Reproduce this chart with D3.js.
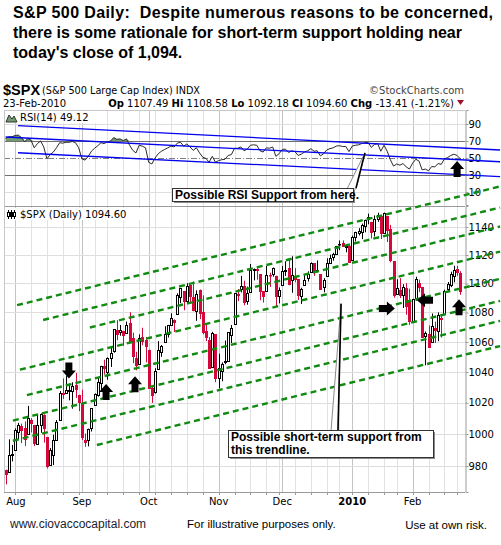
<!DOCTYPE html>
<html lang="en">
<head>
<meta charset="utf-8">
<title>S&amp;P 500 Daily</title>
<script src="https://cdn.jsdelivr.net/npm/d3@7"></script>
<style>
  body { margin: 0; background: #fff; }
  svg { display: block; }
  text { white-space: pre; }
</style>
</head>
<body>
<script>

// trading sessions, 29-Jul-2009 .. 23-Feb-2010
var tradingDays = [
  "2009-07-29","2009-07-30","2009-07-31",
  "2009-08-03","2009-08-04","2009-08-05","2009-08-06","2009-08-07","2009-08-10","2009-08-11","2009-08-12","2009-08-13","2009-08-14",
  "2009-08-17","2009-08-18","2009-08-19","2009-08-20","2009-08-21","2009-08-24","2009-08-25","2009-08-26","2009-08-27","2009-08-28","2009-08-31",
  "2009-09-01","2009-09-02","2009-09-03","2009-09-04","2009-09-08","2009-09-09","2009-09-10","2009-09-11","2009-09-14","2009-09-15","2009-09-16",
  "2009-09-17","2009-09-18","2009-09-21","2009-09-22","2009-09-23","2009-09-24","2009-09-25","2009-09-28","2009-09-29","2009-09-30",
  "2009-10-01","2009-10-02","2009-10-05","2009-10-06","2009-10-07","2009-10-08","2009-10-09","2009-10-12","2009-10-13","2009-10-14","2009-10-15",
  "2009-10-16","2009-10-19","2009-10-20","2009-10-21","2009-10-22","2009-10-23","2009-10-26","2009-10-27","2009-10-28","2009-10-29","2009-10-30",
  "2009-11-02","2009-11-03","2009-11-04","2009-11-05","2009-11-06","2009-11-09","2009-11-10","2009-11-11","2009-11-12","2009-11-13",
  "2009-11-16","2009-11-17","2009-11-18","2009-11-19","2009-11-20","2009-11-23","2009-11-24","2009-11-25","2009-11-27","2009-11-30",
  "2009-12-01","2009-12-02","2009-12-03","2009-12-04","2009-12-07","2009-12-08","2009-12-09","2009-12-10","2009-12-11","2009-12-14","2009-12-15",
  "2009-12-16","2009-12-17","2009-12-18","2009-12-21","2009-12-22","2009-12-23","2009-12-24","2009-12-28","2009-12-29","2009-12-30","2009-12-31",
  "2010-01-04","2010-01-05","2010-01-06","2010-01-07","2010-01-08","2010-01-11","2010-01-12","2010-01-13","2010-01-14","2010-01-15",
  "2010-01-19","2010-01-20","2010-01-21","2010-01-22","2010-01-25","2010-01-26","2010-01-27","2010-01-28","2010-01-29",
  "2010-02-01","2010-02-02","2010-02-03","2010-02-04","2010-02-05","2010-02-08","2010-02-09","2010-02-10","2010-02-11","2010-02-12",
  "2010-02-16","2010-02-17","2010-02-18","2010-02-19","2010-02-22","2010-02-23"
];

var opens = [
  977.66,976.01,986.80,
  990.22,1001.41,1005.41,1004.06,999.83,1008.89,1005.77,994.00,1005.86,1012.23,
  998.18,980.62,986.88,996.41,1009.06,1026.59,1026.63,1027.35,1027.81,1031.62,1025.21,
  1019.52,996.07,996.12,1003.84,1018.67,1025.36,1032.99,1043.92,1040.15,1049.03,1053.99,
  1067.87,1066.60,1067.14,1066.35,1072.69,1062.56,1049.48,1045.38,1063.69,1061.02,
  1054.91,1029.71,1026.87,1042.02,1053.65,1060.03,1065.28,1071.63,1074.96,1078.68,1090.36,
  1094.67,1088.22,1098.64,1090.36,1080.96,1095.62,1080.36,1067.54,1061.51,1043.69,1065.41,
  1036.18,1040.92,1047.30,1047.30,1064.95,1072.31,1092.18,1096.04,1098.31,1087.59,
  1094.13,1109.22,1109.44,1106.44,1094.66,1094.86,1105.83,1106.49,1105.47,1091.07,
  1098.89,1109.03,1110.59,1102.43,1105.52,1103.04,1091.07,1098.69,1103.96,1107.84,1114.11,
  1108.61,1106.36,1097.86,1105.31,1114.51,1118.84,1121.08,1127.53,1128.55,1125.53,1126.60,
  1116.56,1132.66,1135.71,1136.27,1140.52,1145.96,1143.81,1137.31,1145.68,1147.72,
  1136.03,1147.95,1138.68,1115.49,1092.40,1095.80,1091.94,1096.93,1087.61,
  1073.89,1090.05,1100.67,1097.25,1064.12,1065.51,1060.06,1069.68,1067.10,1075.95,
  1079.13,1096.14,1099.03,1105.49,1110.00,1107.49
];
var highs = [
  977.76,996.68,993.18,
  1003.61,1007.12,1006.64,1008.00,1018.00,1010.12,1005.77,1012.78,1013.14,1012.60,
  998.18,991.20,999.61,1008.92,1027.59,1035.82,1037.75,1032.47,1033.33,1039.47,1025.21,
  1028.45,1000.34,1003.43,1016.48,1026.07,1036.34,1044.14,1048.18,1049.74,1056.04,1068.76,
  1074.77,1071.52,1067.28,1073.81,1080.15,1066.29,1053.47,1065.13,1069.62,1063.40,
  1054.91,1030.60,1042.58,1060.55,1058.02,1070.67,1071.51,1079.46,1075.30,1093.17,1096.56,
  1094.67,1100.17,1098.64,1101.36,1095.21,1095.83,1091.75,1072.48,1063.26,1066.83,1065.41,
  1052.18,1046.36,1061.00,1066.65,1071.48,1093.19,1096.09,1105.37,1101.97,1097.79,
  1113.69,1110.52,1111.10,1106.44,1094.66,1112.38,1107.56,1111.18,1105.47,1097.24,
  1112.28,1115.58,1117.28,1119.13,1110.72,1103.04,1097.04,1106.25,1108.50,1114.76,1114.11,
  1116.21,1106.36,1103.74,1117.68,1120.27,1121.58,1126.48,1130.38,1130.38,1126.42,1127.64,
  1133.87,1136.63,1139.19,1142.46,1145.39,1149.74,1143.81,1148.40,1150.41,1147.77,
  1150.45,1147.95,1141.58,1115.49,1102.97,1103.69,1099.51,1100.22,1096.45,
  1089.38,1104.73,1102.72,1097.25,1067.13,1071.20,1079.28,1073.67,1080.04,1077.81,
  1095.67,1101.03,1108.24,1112.42,1112.29,1108.58
];
var lows = [
  968.65,976.01,982.85,
  990.22,996.68,994.31,992.49,999.83,1000.99,992.40,993.36,1000.82,994.60,
  978.51,980.62,980.62,996.39,1009.06,1022.48,1026.21,1021.57,1016.20,1023.13,1014.62,
  996.28,991.97,992.25,1001.65,1018.67,1023.97,1028.04,1038.40,1035.00,1043.42,1052.87,
  1061.20,1064.27,1057.46,1066.35,1060.39,1045.85,1041.17,1045.38,1057.83,1046.47,
  1029.45,1019.95,1025.92,1042.02,1050.10,1060.03,1063.00,1071.63,1066.71,1078.68,1086.41,
  1081.53,1086.48,1086.16,1080.77,1074.31,1075.49,1065.23,1060.62,1042.19,1043.69,1033.38,
  1029.38,1033.94,1045.15,1047.30,1059.32,1072.31,1087.83,1093.81,1084.90,1085.33,
  1094.13,1102.19,1102.70,1088.40,1086.81,1094.86,1097.63,1104.75,1083.74,1086.25,
  1098.89,1105.29,1098.74,1093.52,1100.83,1088.61,1085.89,1098.69,1101.34,1107.84,1105.35,
  1107.96,1095.88,1093.88,1105.31,1114.51,1116.00,1121.08,1123.51,1126.08,1121.94,1114.81,
  1116.56,1129.66,1133.95,1131.32,1136.22,1142.02,1131.77,1133.18,1143.80,1131.39,
  1135.77,1129.25,1114.84,1090.18,1092.40,1089.86,1083.11,1078.46,1071.59,
  1073.89,1087.96,1093.97,1062.78,1044.50,1056.51,1060.06,1059.34,1060.59,1062.97,
  1079.13,1094.72,1097.48,1100.80,1105.38,1092.18
];
var closes = [
  975.15,986.75,987.48,
  1002.63,1005.65,1002.72,997.08,1010.48,1007.10,994.35,1005.81,1012.73,1004.09,
  979.73,989.67,996.46,1007.37,1026.13,1025.57,1028.00,1028.12,1030.98,1028.93,1020.62,
  998.04,994.75,1003.24,1016.40,1025.39,1033.37,1044.14,1042.73,1049.34,1052.63,1068.76,
  1065.49,1068.30,1064.66,1071.66,1060.87,1050.78,1044.38,1062.98,1060.61,1057.08,
  1029.85,1025.21,1040.46,1054.72,1057.58,1065.48,1071.49,1076.19,1073.19,1092.02,1096.56,
  1087.68,1097.91,1091.06,1081.40,1092.91,1079.60,1066.95,1063.41,1042.63,1066.11,1036.19,
  1042.88,1045.41,1046.50,1066.63,1069.30,1093.08,1093.01,1098.51,1087.24,1093.48,
  1109.30,1110.32,1109.80,1094.90,1091.38,1106.24,1105.65,1110.63,1091.49,1095.63,
  1108.86,1109.24,1099.92,1105.98,1103.25,1091.94,1095.95,1102.35,1106.41,1114.11,1107.93,
  1109.18,1096.08,1102.47,1114.05,1118.02,1120.59,1126.48,1127.78,1126.20,1126.42,1115.10,
  1132.99,1136.52,1137.14,1141.69,1144.98,1146.98,1136.22,1145.68,1148.46,1136.03,
  1150.23,1138.04,1116.48,1091.76,1096.78,1092.17,1097.50,1084.53,1073.87,
  1089.19,1103.32,1097.28,1063.11,1066.19,1056.74,1070.52,1068.13,1078.47,1075.51,
  1094.87,1099.51,1106.75,1109.17,1108.01,1094.60
];
var closeBefore = 979.62;   // 28-Jul-2009, colours the first bar

// RSI(14)
var rsi14 = [
  73,75,75,
  76.5,77,74,69,73,71,62,67,70,63,
  49,54,57,62,68,67.5,68.5,68.5,69.5,68,62,
  49,47.5,52,58,61.5,64.5,68,67,69,70,74,
  72,72.5,70.5,72.5,65,59,56,65,64,62,
  45,43,50,55,58,60,62,64,63,67.5,68.5,
  64,66.5,63,59,62,56,51,49.5,45,52,45,
  47,48,48.5,53,54,61.5,61.5,63,58.5,60.5,
  65,65.5,65,58.5,57,62,61.5,63,52,55,
  60,60.5,56.5,58.5,57.5,53,54.5,57,58.5,61,58,
  58.5,52.5,55,59.5,61,62,64,64.5,63.5,63.5,57.5,
  64,65,65.5,67,68,68.5,62.5,66,67,58,
  65,58,48,40.5,43,41.5,43.5,39.5,37,
  44,48.5,46.5,36,37,35,40,39.5,43.5,42.5,
  49,50.5,53,54.5,53,49.12
];

// axis ticks
var priceTicks = [980,1000,1020,1040,1060,1080,1100,1120,1140];
var rsiTicks = [90,70,50,30,10];

// green channel lines on the price panel (session index, price)
var trendStartIdx   = [3.6, 11.8, 26.5, 4.5, 6.7, 2.3, 2.3, 28.7];
var trendStartPrice = [1085.0, 1074.9, 1069.8, 1041.6, 1025.0, 1008.6, 995.8, 993.1];
var trendEndIdx     = [155.5, 155.5, 155.5, 155.5, 155.5, 155.5, 155.5, 155.5];
var trendEndPrice   = [1169.7, 1154.2, 1140.4, 1122.4, 1103.3, 1088.0, 1074.3, 1057.3];

// blue lines on the RSI panel
var rsiLineStartIdx = [3.9, 0, 3.9];
var rsiLineStartVal = [88.0, 74.7, 56.2];
var rsiLineEndIdx   = [155.5, 155.5, 155.5];
var rsiLineEndVal   = [59.4, 45.6, 28.0];

// block arrows
var arrowIdx   = [19.9, 31.6, 40.7, 119.9, 131.9, 142.6];
var arrowPrice = [1041, 1027, 1032, 1082.8, 1088.4, 1083.6];
var arrowDir   = ["down","up","up","right","left","up"];
var rsiArrowIdx = 142, rsiArrowVal = 37;

var w = 501, h = 545;
var plotLeft = 4, plotRight = 465;
var rsiTop = 110, rsiBottom = 205, priceTop = 206, priceBottom = 492;
var red = "#d3093b";
var sansUI = "'DejaVu Sans', Verdana, sans-serif";
var arial = "'Liberation Sans', Arial, sans-serif";

var parseDay = d3.timeParse("%Y-%m-%d");
var days = tradingDays.map(parseDay);

var xScale = d3.scaleLinear().domain([0, days.length - 1]).range([5.6, 460.3]);
var yPrice = d3.scaleLog().domain([964, 1155.3]).range([priceBottom, priceTop]);
var yRsi = d3.scaleLinear().domain([-5.3, 106.5]).range([rsiBottom, rsiTop]);

var svg = d3.select("body").append("svg")
  .attr("width", w).attr("height", h);

svg.append("rect").attr("width", w).attr("height", h).attr("fill", "#fff");

// title
var title = ["S&P 500 Daily:  Despite numerous reasons to be concerned,",
             "there is some rationale for short-term support holding near",
             "today's close of 1,094."];
svg.selectAll("text.title").data(title).enter().append("text")
  .attr("class", "title")
  .attr("x", 13).attr("y", function(d, i) { return 18 + i * 20; })
  .attr("font-family", arial).attr("font-weight", "bold").attr("font-size", "16px")
  .attr("fill", "#000")
  .attr("textLength", function(d, i) { return i === 0 ? 480 : null; })
  .attr("lengthAdjust", "spacing")
  .text(function(d) { return d; });

// chart header
svg.append("text").attr("x", 3).attr("y", 95)
  .attr("font-family", arial).attr("font-weight", "bold").attr("font-size", "14.5px")
  .text("$SPX");
svg.append("text").attr("x", 42).attr("y", 94)
  .attr("font-family", sansUI).attr("font-size", "10px")
  .attr("textLength", 158).attr("lengthAdjust", "spacingAndGlyphs")
  .text("(S&P 500 Large Cap Index) INDX");
svg.append("text").attr("x", 464).attr("y", 94).attr("text-anchor", "end")
  .attr("font-family", sansUI).attr("font-size", "10px").attr("fill", "#444")
  .text("\u00A9StockCharts.com");
svg.append("text").attr("x", 3).attr("y", 107)
  .attr("font-family", sansUI).attr("font-size", "10px")
  .text("23-Feb-2010");

var ohlc = svg.append("text").attr("x", 454).attr("y", 107).attr("text-anchor", "end")
  .attr("font-family", sansUI).attr("font-size", "10px");
[["Op", true], [" 1107.49 ", false], ["Hi", true], [" 1108.58 ", false], ["Lo", true],
 [" 1092.18 ", false], ["Cl", true], [" 1094.60 ", false], ["Chg", true], [" -13.41 (-1.21%)", false]]
  .forEach(function(p) {
    ohlc.append("tspan").attr("font-weight", p[1] ? "bold" : "normal").text(p[0]);
  });
svg.append("path").attr("d", "M457,100 L464,100 L460.5,105 Z").attr("fill", "#a0102a");

// panel frames
var grid = svg.append("g");
grid.append("rect").attr("x", plotLeft).attr("y", rsiTop)
  .attr("width", plotRight - plotLeft).attr("height", priceBottom - rsiTop).attr("fill", "#fff");

// weekly and monthly vertical lines
var weekStarts = [], monthStarts = [];
days.forEach(function(d, i) {
  if (i === 0) return;
  var prev = days[i - 1];
  if (d.getDay() < prev.getDay() || (d - prev) > 4 * 864e5) weekStarts.push(i);
  if (d.getMonth() !== prev.getMonth()) monthStarts.push(i);
});

grid.selectAll("line.week").data(weekStarts).enter().append("line")
  .attr("x1", function(i) { return Math.round(xScale(i)) + 0.5; })
  .attr("x2", function(i) { return Math.round(xScale(i)) + 0.5; })
  .attr("y1", rsiTop).attr("y2", priceBottom)
  .attr("stroke", "#e2e2e2");
grid.selectAll("line.month").data(monthStarts).enter().append("line")
  .attr("x1", function(i) { return Math.round(xScale(i)) + 0.5; })
  .attr("x2", function(i) { return Math.round(xScale(i)) + 0.5; })
  .attr("y1", rsiTop).attr("y2", priceBottom)
  .attr("stroke", "#c4c4c4");

// horizontal grid lines
grid.selectAll("line.pgrid").data(priceTicks).enter().append("line")
  .attr("x1", plotLeft).attr("x2", plotRight)
  .attr("y1", function(d) { return Math.round(yPrice(d)) + 0.5; })
  .attr("y2", function(d) { return Math.round(yPrice(d)) + 0.5; })
  .attr("stroke", "#dedede");
grid.selectAll("line.rgrid").data([90, 10]).enter().append("line")
  .attr("x1", plotLeft).attr("x2", plotRight)
  .attr("y1", function(d) { return Math.round(yRsi(d)) + 0.5; })
  .attr("y2", function(d) { return Math.round(yRsi(d)) + 0.5; })
  .attr("stroke", "#dedede");

// RSI reference levels
[70, 30].forEach(function(v) {
  grid.append("line").attr("x1", plotLeft).attr("x2", plotRight)
    .attr("y1", Math.round(yRsi(v)) + 0.5).attr("y2", Math.round(yRsi(v)) + 0.5)
    .attr("stroke", "#707070");
});
grid.append("line").attr("x1", plotLeft).attr("x2", plotRight)
  .attr("y1", Math.round(yRsi(50)) + 0.5).attr("y2", Math.round(yRsi(50)) + 0.5)
  .attr("stroke", "#808080").attr("stroke-dasharray", "6,2,1,2");

// panel borders and axes
grid.append("line").attr("x1", plotLeft).attr("x2", plotRight)
  .attr("y1", rsiTop + 0.5).attr("y2", rsiTop + 0.5).attr("stroke", "#c8c8c8");
grid.append("line").attr("x1", plotLeft).attr("x2", plotRight)
  .attr("y1", priceTop + 0.5).attr("y2", priceTop + 0.5).attr("stroke", "#9a9a9a");
grid.append("line").attr("x1", plotLeft).attr("x2", plotRight)
  .attr("y1", priceBottom + 0.5).attr("y2", priceBottom + 0.5).attr("stroke", "#9a9a9a");
grid.append("line").attr("x1", plotLeft + 0.5).attr("x2", plotLeft + 0.5)
  .attr("y1", rsiTop).attr("y2", priceBottom).attr("stroke", "#c8c8c8");

// right value axes
var priceAxis = d3.axisRight(yPrice).tickValues(priceTicks).tickSize(3).tickFormat(d3.format("d"));
var rsiAxis = d3.axisRight(yRsi).tickValues(rsiTicks).tickSize(3);
[svg.append("g").call(priceAxis), svg.append("g").call(rsiAxis)].forEach(function(g) {
  g.attr("transform", "translate(" + (plotRight + 0.5) + ",0)");
  g.select(".domain").attr("stroke", "#9a9a9a");
  g.selectAll(".tick line").attr("stroke", "#9a9a9a");
  g.selectAll(".tick text").attr("font-family", sansUI).attr("font-size", "10px")
    .attr("fill", "#000").attr("x", 3);
});

// bottom date axis
var dateAxis = svg.append("g");
dateAxis.selectAll("line.tick").data(weekStarts).enter().append("line")
  .attr("x1", function(i) { return Math.round(xScale(i)) + 0.5; })
  .attr("x2", function(i) { return Math.round(xScale(i)) + 0.5; })
  .attr("y1", priceBottom).attr("y2", priceBottom + 3)
  .attr("stroke", "#9a9a9a");
var monthFmt = d3.timeFormat("%b");
dateAxis.selectAll("text").data(monthStarts).enter().append("text")
  .attr("x", function(i) { return xScale(i); })
  .attr("y", 505).attr("text-anchor", function(i) { return i < 5 ? "start" : "middle"; })
  .attr("dx", function(i) { return i < 5 ? -9 : 0; })
  .attr("font-family", sansUI).attr("font-size", "10px")
  .attr("font-weight", function(i) { return days[i].getMonth() === 0 ? "bold" : "normal"; })
  .text(function(i) { return days[i].getMonth() === 0 ? days[i].getFullYear() : monthFmt(days[i]); });

// RSI panel
var rsiArea = d3.area()
  .x(function(d, i) { return xScale(i); })
  .y0(yRsi(70))
  .y1(function(d) { return yRsi(Math.max(d, 70)); });
svg.append("path").datum(rsi14).attr("d", rsiArea).attr("fill", "#6f9b6f");

var rsiLine = d3.line()
  .x(function(d, i) { return xScale(i); })
  .y(function(d) { return yRsi(d); });
svg.append("path").datum(rsi14).attr("d", rsiLine)
  .attr("fill", "none").attr("stroke", "#2a2a2a").attr("stroke-width", 1);

rsiLineStartIdx.forEach(function(s, k) {
  svg.append("line")
    .attr("x1", xScale(s)).attr("y1", yRsi(rsiLineStartVal[k]))
    .attr("x2", xScale(rsiLineEndIdx[k])).attr("y2", yRsi(rsiLineEndVal[k]))
    .attr("stroke", "#0000ee").attr("stroke-width", 1.3);
});

// candles
var candles = svg.append("g");
closes.forEach(function(c, i) {
  var o = opens[i];
  var prev = i === 0 ? closeBefore : closes[i - 1];
  var col = c >= prev ? "#000" : red;
  var cx = Math.round(xScale(i));
  candles.append("line")
    .attr("x1", cx + 0.5).attr("x2", cx + 0.5)
    .attr("y1", yPrice(highs[i])).attr("y2", yPrice(lows[i]))
    .attr("stroke", col);
  var top = Math.round(yPrice(Math.max(o, c))), bot = Math.round(yPrice(Math.min(o, c)));
  candles.append("rect")
    .attr("x", cx - 0.5).attr("y", top + 0.5)
    .attr("width", 2).attr("height", Math.max(bot - top, 0.5))
    .attr("fill", c < o ? col : "#fff")
    .attr("stroke", col).attr("stroke-width", 1);
});

// green channel lines
trendStartIdx.forEach(function(s, k) {
  svg.append("line")
    .attr("x1", xScale(s)).attr("y1", yPrice(trendStartPrice[k]))
    .attr("x2", xScale(trendEndIdx[k])).attr("y2", yPrice(trendEndPrice[k]))
    .attr("stroke", "#108a10").attr("stroke-width", 2.4)
    .attr("stroke-dasharray", "6,4");
});

// legends
function legend(yTop, label, icon) {
  svg.append("rect").attr("x", plotLeft + 1).attr("y", yTop)
    .attr("width", label.length * 6.2 + 18).attr("height", 12).attr("fill", "#fff");
  icon(yTop);
  svg.append("text").attr("x", 20).attr("y", yTop + 10)
    .attr("font-family", sansUI).attr("font-size", "10px").text(label);
}
legend(111, "RSI(14) 49.12", function(t) {
  svg.append("path").attr("d", "M6," + (t + 11) + " L9," + (t + 4) + " L12," + (t + 8) +
      " L14," + (t + 5) + " L17," + (t + 11) + " Z")
    .attr("fill", "#6f9b6f").attr("stroke", "#333");
});
legend(208, "$SPX (Daily) 1094.60", function(t) {
  [8, 11, 14].forEach(function(cx, k) {
    svg.append("line").attr("x1", cx + 0.5).attr("x2", cx + 0.5)
      .attr("y1", t + 2).attr("y2", t + 11).attr("stroke", "#000");
    svg.append("rect").attr("x", cx - 0.5).attr("y", t + 4.5).attr("width", 2).attr("height", 4)
      .attr("fill", k === 1 ? "#000" : "#fff").attr("stroke", "#000");
  });
});

// block arrows
var arrowShape = "M0,-8 L7,0 L3.5,0 L3.5,8 L-3.5,8 L-3.5,0 L-7,0 Z";
var rot = { up: 0, right: 90, down: 180, left: 270 };
arrowIdx.forEach(function(s, k) {
  svg.append("path").attr("d", arrowShape)
    .attr("transform", "translate(" + xScale(s) + "," + yPrice(arrowPrice[k]) + ") rotate(" + rot[arrowDir[k]] + ")")
    .attr("fill", "#000");
});
svg.append("path").attr("d", arrowShape)
  .attr("transform", "translate(" + xScale(rsiArrowIdx) + "," + yRsi(rsiArrowVal) + ")")
  .attr("fill", "#000");

// callout boxes
function callout(bx, by, bw, bh, lines, tipX, tipY, baseL, baseR) {
  var g = svg.append("g");
  g.append("rect").attr("x", bx + 2).attr("y", by + 2).attr("width", bw).attr("height", bh)
    .attr("fill", "#8a8a8a");
  g.append("path")
    .attr("d", "M" + baseL + "," + (by + 1) + " L" + tipX + "," + tipY + " L" + baseR + "," + (by + 1) + " Z")
    .attr("fill", "#fff").attr("stroke", "#8a8a8a");
  g.append("line").attr("x1", tipX).attr("y1", tipY).attr("x2", baseR).attr("y2", by)
    .attr("stroke", "#000").attr("stroke-width", 1.6);
  g.append("rect").attr("x", bx + 0.5).attr("y", by + 0.5).attr("width", bw).attr("height", bh)
    .attr("fill", "#fff").attr("stroke", "#333");
  lines.forEach(function(t, i) {
    g.append("text").attr("x", bx + 3).attr("y", by + 11 + i * 13)
      .attr("font-family", arial).attr("font-weight", "bold").attr("font-size", "12px")
      .text(t);
  });
}
callout(172, 188, 181, 13, ["Possible RSI Support from here."],
        xScale(113), yRsi(56), 347, 356);
callout(228, 430, 205, 27, ["Possible short-term support from", "this trendline."],
        xScale(105.5), yPrice(1086), 331, 338);

// footer
svg.append("text").attr("x", 10).attr("y", 528)
  .attr("font-family", arial).attr("font-size", "12px").attr("fill", "#1c1c30")
  .text("www.ciovaccocapital.com");
svg.append("text").attr("x", 187).attr("y", 528)
  .attr("font-family", arial).attr("font-size", "11.5px").attr("fill", "#000")
  .text("For illustrative purposes only.");
svg.append("text").attr("x", 487).attr("y", 529).attr("text-anchor", "end")
  .attr("font-family", arial).attr("font-size", "11.5px").attr("fill", "#000")
  .text("Use at own risk.");

</script>
</body>
</html>
